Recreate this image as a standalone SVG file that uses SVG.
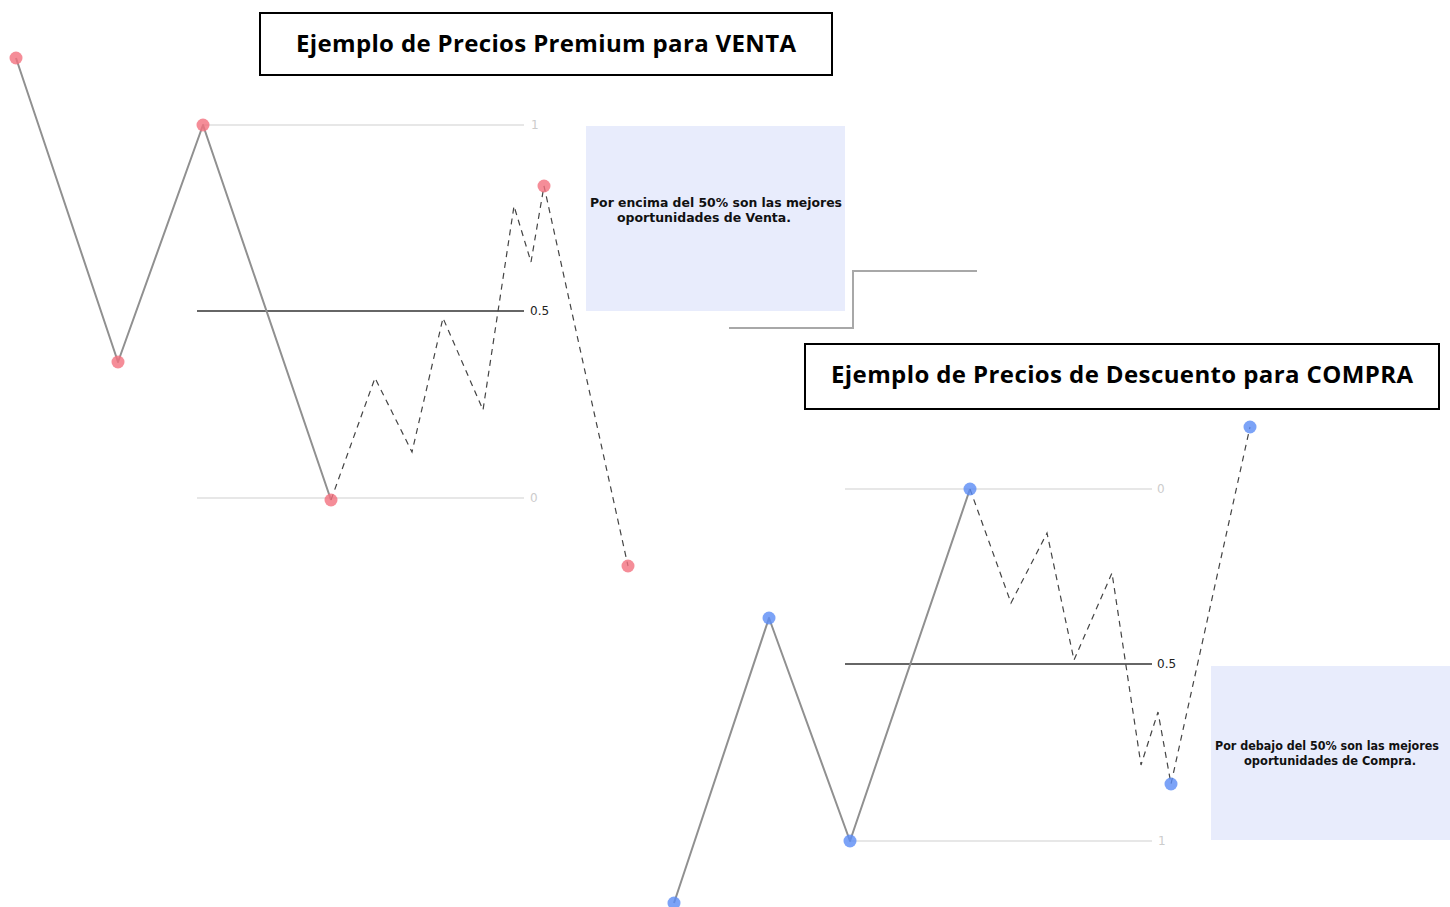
<svg xmlns="http://www.w3.org/2000/svg" width="1450" height="907" viewBox="0 0 1450 907">
<style>
.bg{fill:#ffffff}
.title rect{fill:#ffffff;stroke:#000000;stroke-width:2}
.title text{font-family:"Open Sans","Liberation Sans",sans-serif;font-weight:bold;font-size:24px;fill:#000000;text-anchor:middle}
.note rect{fill:#e8ecfc}
.note text{font-family:"DejaVu Sans","Liberation Sans",sans-serif;font-weight:bold;font-size:12px;fill:#111111;text-anchor:middle}
.solid{fill:none;stroke:#909090;stroke-width:2;stroke-linejoin:round}
.dash{fill:none;stroke:#444444;stroke-width:1.2;stroke-dasharray:6 5}
.lvl{stroke:#d0d0d0;stroke-width:1.2}
.mid{stroke:#333333;stroke-width:1.5}
.lbl{font-family:"DejaVu Sans","Liberation Sans",sans-serif;font-size:12px;fill:#cccccc;dominant-baseline:middle}
.lblm{font-family:"DejaVu Sans","Liberation Sans",sans-serif;font-size:12px;fill:#222222;dominant-baseline:middle}
.red{fill:#f2707e;opacity:0.8}
.blue{fill:#5b8cf5;opacity:0.8}
.conn{fill:none;stroke:#a8a8a8;stroke-width:2}
</style>
<rect class="bg" x="0" y="0" width="1450" height="907"/>

<g id="levels-venta">
<line class="lvl" x1="203" y1="125" x2="524" y2="125"/>
<text class="lbl" x="531" y="125">1</text>
<line class="mid" x1="197" y1="311" x2="524" y2="311"/>
<text class="lblm" x="530" y="311">0.5</text>
<line class="lvl" x1="197" y1="498" x2="524" y2="498"/>
<text class="lbl" x="530" y="498">0</text>
</g>

<g id="levels-compra">
<line class="lvl" x1="845" y1="489" x2="1152" y2="489"/>
<text class="lbl" x="1157" y="489">0</text>
<line class="mid" x1="845" y1="664" x2="1152" y2="664"/>
<text class="lblm" x="1157" y="664">0.5</text>
<line class="lvl" x1="850" y1="841" x2="1152" y2="841"/>
<text class="lbl" x="1158" y="841">1</text>
</g>

<g id="connectors">
<polyline class="solid" points="16,58 118,362 203,125 331,500"/>
<polyline class="dash" points="331,500 375,378 412,452 443,318 483,410 514,206 531,262 544,186 628,566"/>
<polyline class="solid" points="674,903 769,618 850,841 970,489"/>
<polyline class="dash" points="970,489 1011,603 1047,533 1074,660 1112,573 1141,765 1158,712 1171,784 1250,427"/>
<polyline class="conn" points="729,328 853,328 853,271 977,271"/>
</g>

<g id="points-venta">
<circle class="red" cx="16" cy="58" r="6.5"/>
<circle class="red" cx="118" cy="362" r="6.5"/>
<circle class="red" cx="203" cy="125" r="6.5"/>
<circle class="red" cx="331" cy="500" r="6.5"/>
<circle class="red" cx="544" cy="186" r="6.5"/>
<circle class="red" cx="628" cy="566" r="6.5"/>
</g>

<g id="points-compra">
<circle class="blue" cx="674" cy="903" r="6.5"/>
<circle class="blue" cx="769" cy="618" r="6.5"/>
<circle class="blue" cx="850" cy="841" r="6.5"/>
<circle class="blue" cx="970" cy="489" r="6.5"/>
<circle class="blue" cx="1171" cy="784" r="6.5"/>
<circle class="blue" cx="1250" cy="427" r="6.5"/>
</g>

<g id="title-venta" class="title">
<rect x="260" y="13" width="572" height="62"/>
<text x="546" y="52" textLength="500">Ejemplo de Precios Premium para VENTA</text>
</g>

<g id="title-compra" class="title">
<rect x="805" y="344" width="634" height="65"/>
<text x="1122" y="383" textLength="582">Ejemplo de Precios de Descuento para COMPRA</text>
</g>

<g id="note-venta" class="note">
<rect x="586" y="126" width="259" height="185"/>
<text x="716" y="207" textLength="252" lengthAdjust="spacingAndGlyphs">Por encima del 50% son las mejores</text>
<text x="704" y="222" textLength="174" lengthAdjust="spacingAndGlyphs">oportunidades de Venta.</text>
</g>

<g id="note-compra" class="note">
<rect x="1211" y="666" width="239" height="174"/>
<text x="1327" y="750" textLength="224" lengthAdjust="spacingAndGlyphs">Por debajo del 50% son las mejores</text>
<text x="1330" y="765" textLength="172" lengthAdjust="spacingAndGlyphs">oportunidades de Compra.</text>
</g>
</svg>
